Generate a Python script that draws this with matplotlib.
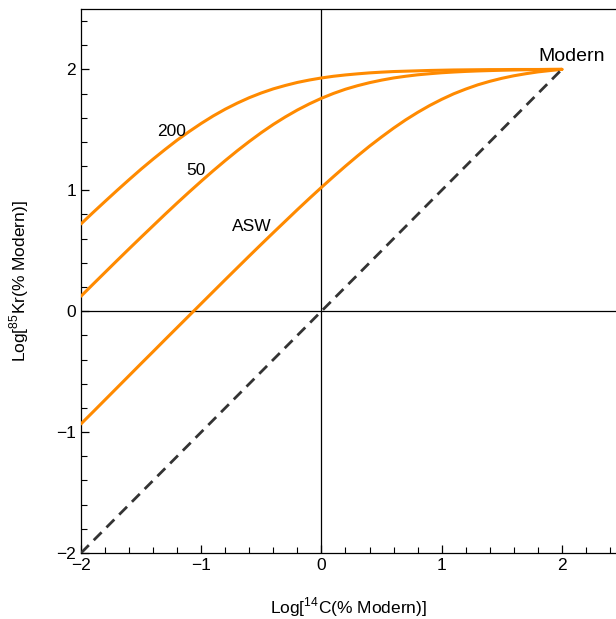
import matplotlib
matplotlib.use("Agg")
import matplotlib.pyplot as plt
from matplotlib.ticker import MultipleLocator

plt.rcParams['font.family'] = ['Liberation Sans', 'DejaVu Sans']

# Log[14C (% Modern)] sample positions
x_vals = [-2.0, -1.9, -1.8, -1.7, -1.6, -1.5, -1.4, -1.3, -1.2, -1.1, -1.0,
          -0.9, -0.8, -0.7, -0.6, -0.5, -0.4, -0.3, -0.2, -0.1, 0.0,
          0.1, 0.2, 0.3, 0.4, 0.5, 0.6, 0.7, 0.8, 0.9, 1.0,
          1.1, 1.2, 1.3, 1.4, 1.5, 1.6, 1.7, 1.8, 1.9, 2.0]
# Log[85Kr (% Modern)] for each curve
y_asw = [-0.932, -0.833, -0.733, -0.633, -0.533, -0.433, -0.334, -0.234, -0.135, -0.036, 0.063,
         0.162, 0.261, 0.359, 0.457, 0.554, 0.650, 0.745, 0.840, 0.933, 1.024,
         1.113, 1.200, 1.284, 1.365, 1.441, 1.514, 1.582, 1.644, 1.701, 1.752,
         1.798, 1.837, 1.872, 1.901, 1.926, 1.947, 1.964, 1.979, 1.990, 2.000]
y_50 = [0.124, 0.223, 0.321, 0.419, 0.516, 0.612, 0.707, 0.802, 0.895, 0.986, 1.075,
        1.162, 1.246, 1.327, 1.404, 1.477, 1.545, 1.607, 1.664, 1.715, 1.761,
        1.801, 1.836, 1.865, 1.890, 1.911, 1.929, 1.943, 1.955, 1.964, 1.972,
        1.978, 1.983, 1.987, 1.990, 1.993, 1.995, 1.997, 1.998, 1.999, 2.000]
y_200 = [0.722, 0.816, 0.908, 0.999, 1.088, 1.175, 1.258, 1.338, 1.415, 1.486, 1.553,
         1.615, 1.671, 1.721, 1.766, 1.805, 1.839, 1.867, 1.892, 1.912, 1.929,
         1.943, 1.954, 1.963, 1.971, 1.977, 1.982, 1.985, 1.988, 1.991, 1.993,
         1.995, 1.996, 1.997, 1.998, 1.998, 1.999, 1.999, 1.999, 2.000, 2.000]
# 1:1 line
x_diag = [-2.0, 2.0]
y_diag = [-2.0, 2.0]

curve_labels = ["200", "50", "ASW"]
label_pos_x = [-1.25, -1.04, -0.58]
label_pos_y = [1.49, 1.16, 0.70]

fig = plt.figure(figsize=(6.16, 6.19), dpi=100)
ax = fig.add_axes([0.1315, 0.1066, 0.8685, 0.879])

orange = '#FF8A00'
for ys in (y_asw, y_50, y_200):
    ax.plot(x_vals, ys, color=orange, lw=2.2, solid_capstyle='round',
            solid_joinstyle='round', zorder=3)
ax.plot(x_diag, y_diag, color='#333333', lw=2.0, dashes=(4, 2.5), zorder=3)

ax.axhline(0, color='black', lw=0.9, zorder=2)
ax.axvline(0, color='black', lw=0.9, zorder=2)

for t, lx, ly in zip(curve_labels, label_pos_x, label_pos_y):
    ax.text(lx, ly, t, fontsize=12.5, ha='center', va='center', zorder=4)
ax.text(2.08, 2.11, "Modern", fontsize=14, ha='center', va='center', zorder=4)

ax.set_xlim(-2, 2.45)
ax.set_ylim(-2, 2.5)
ax.xaxis.set_major_locator(MultipleLocator(1))
ax.yaxis.set_major_locator(MultipleLocator(1))
ax.xaxis.set_minor_locator(MultipleLocator(0.2))
ax.yaxis.set_minor_locator(MultipleLocator(0.2))
ax.tick_params(which='both', direction='in', labelsize=12.5, top=False, right=False)
ax.tick_params(which='major', length=6, width=0.9)
ax.tick_params(which='minor', length=4, width=0.8)
ax.spines['right'].set_visible(False)
for s in ('left', 'bottom', 'top'):
    ax.spines[s].set_linewidth(0.9)

ax.set_xlabel(r'Log[$^{\mathregular{14}}$C(% Modern)]', fontsize=12.5, labelpad=16)
ax.set_ylabel(r'Log[$^{\mathregular{85}}$Kr(% Modern)]', fontsize=12.5, labelpad=18)

fig.savefig('out.png', dpi=100)
